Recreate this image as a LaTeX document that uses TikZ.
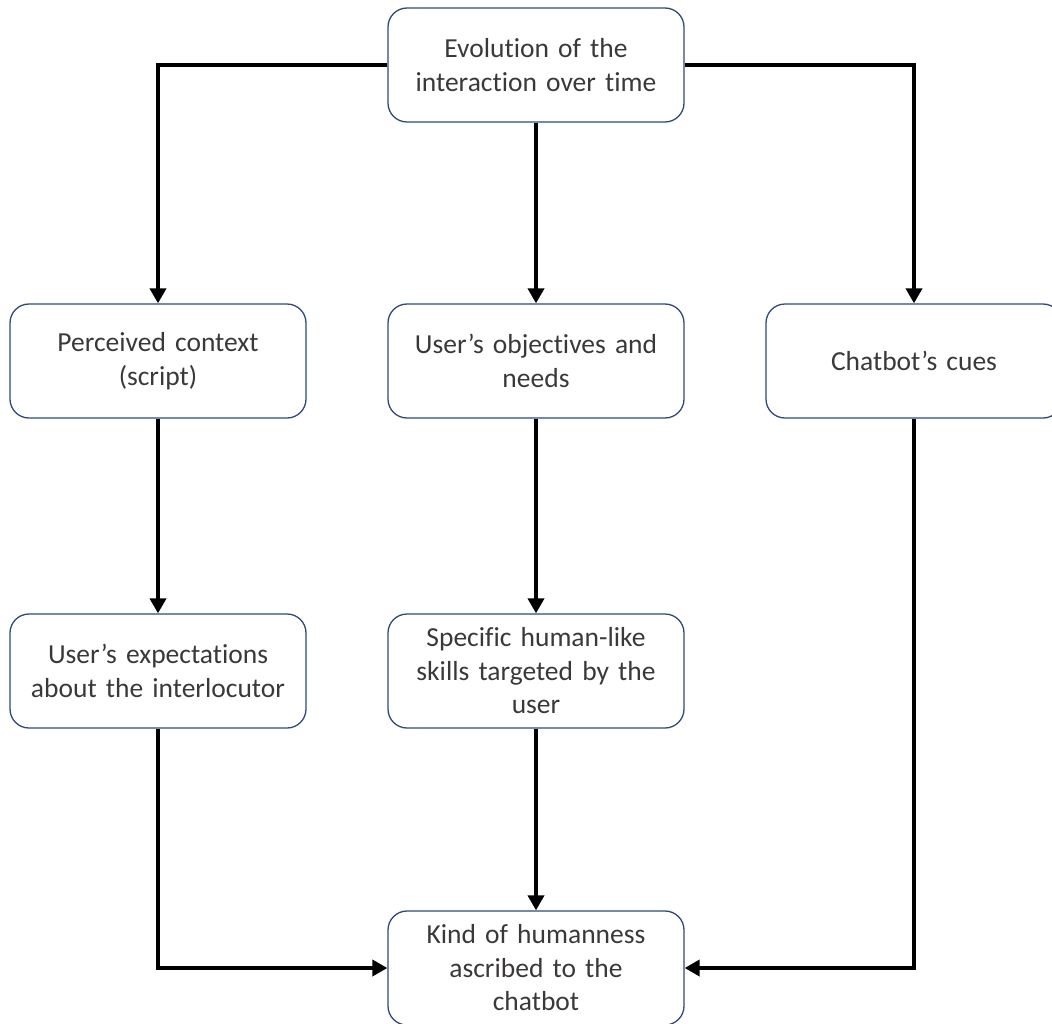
\documentclass[tikz,border=0pt]{standalone}
\usepackage{fontspec}
\setmainfont{Carlito}[Ligatures=NoCommon,WordSpace=0.85]
\usetikzlibrary{arrows.meta}
\definecolor{boxline}{HTML}{2F4A78}
\definecolor{txt}{HTML}{3B3838}
\begin{document}
\begin{tikzpicture}[x=1pt,y=-1pt,
  box/.style={draw=boxline,line width=1.3pt,rounded corners=19pt,minimum width=296pt,minimum height=114pt,inner sep=0pt,align=center,text width=290pt,text=txt,font=\fontsize{27.5}{33.5}\selectfont},
  conn/.style={line width=4.8pt,-{Triangle[length=15pt,width=16pt]}}]
\path[use as bounding box] (0,0) rectangle (1052,1023);
\begin{scope}
\clip (0,0) rectangle (1052,1023);
\node[box] (evo) at (536,65) {Evolution of the\\interaction over time};
\node[box] (ctx) at (158,361) {Perceived context\\(script)};
\node[box] (obj) at (536,361) {User’s objectives and\\needs};
\node[box] (cue) at (914,361) {Chatbot’s cues};
\node[box] (exp) at (158,671) {User’s expectations\\about the interlocutor};
\node[box] (ski) at (536,671) {Specific human-like\\skills targeted by the\\user};
\node[box] (kind) at (536,968) {Kind of humanness\\ascribed to the\\chatbot};
\end{scope}
\draw[conn] (evo.west) -| (ctx.north);
\draw[conn] (evo.east) -| (cue.north);
\draw[conn] (evo.south) -- (obj.north);
\draw[conn] (ctx.south) -- (exp.north);
\draw[conn] (obj.south) -- (ski.north);
\draw[conn] (ski.south) -- (kind.north);
\draw[conn] (exp.south) |- (kind.west);
\draw[conn] (cue.south) |- (kind.east);
\end{tikzpicture}
\end{document}
